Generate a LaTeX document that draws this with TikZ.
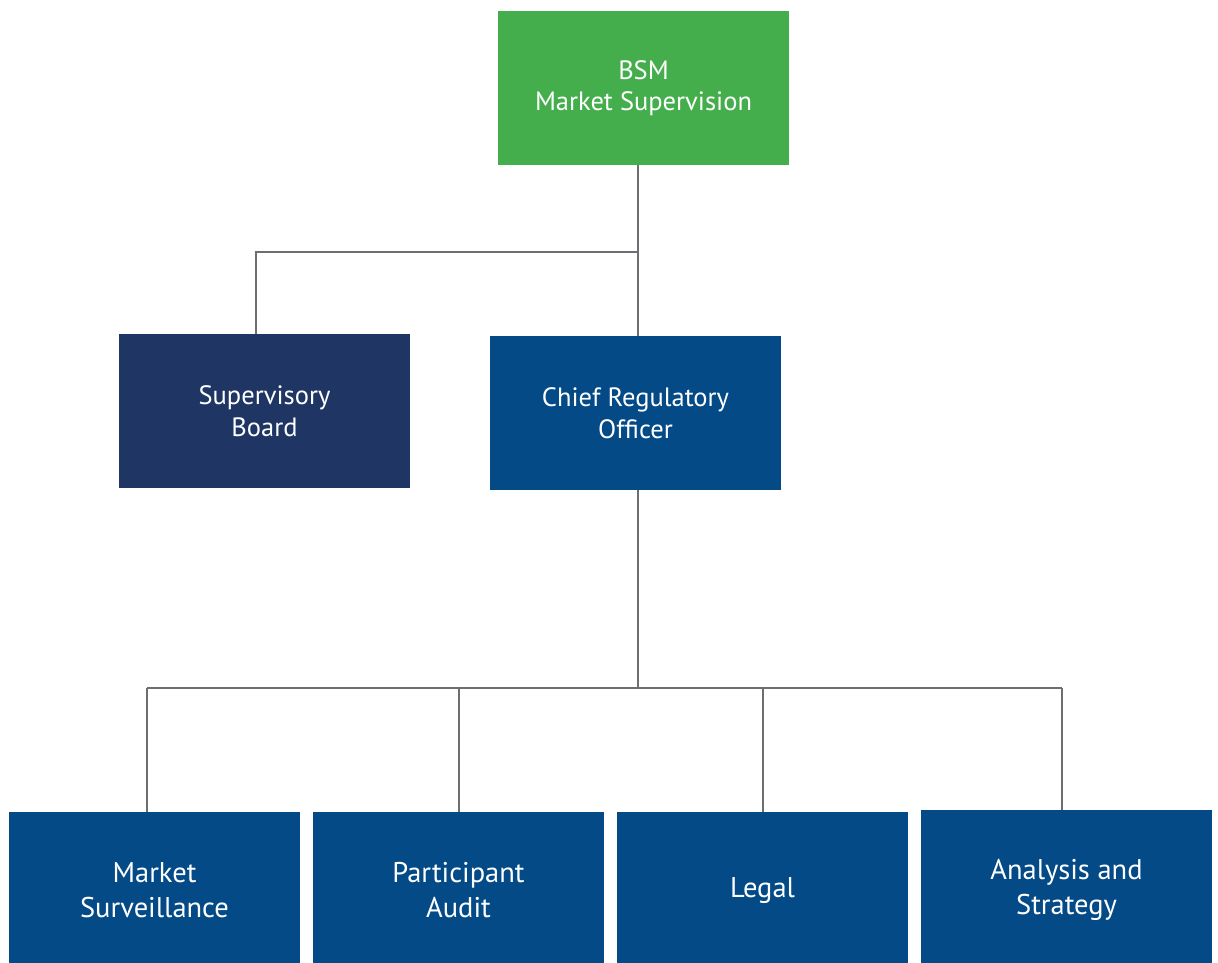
\documentclass[tikz,border=0pt]{standalone}
\usepackage{fontspec}
\setmainfont{PT Sans}
\definecolor{bsmgreen}{HTML}{43AE4B}
\definecolor{navy}{HTML}{1F3664}
\definecolor{deptblue}{HTML}{034A86}
\definecolor{linegray}{HTML}{6D6E71}
\begin{document}
\begin{tikzpicture}[x=1pt,y=-1pt,
  box/.style={draw=none,minimum width=291pt,minimum height=154pt,inner sep=0pt,
    text=white,align=center,font=\fontsize{26.5}{31.5}\selectfont},
  dept/.style={draw=none,fill=deptblue,minimum width=291pt,minimum height=151pt,inner sep=0pt},
  deptlabel/.style={text=white,align=center,inner sep=0pt,font=\fontsize{28.5}{35}\selectfont,yshift=-3pt},
  link/.style={draw=linegray,line width=2.5pt}]
\useasboundingbox (0,0) rectangle (1218,963);
\node[box,fill=bsmgreen] (bsm) at (643.5,88) {BSM\\Market Supervision};
\node[box,fill=navy] (sb) at (264.5,411) {Supervisory\\Board};
\node[box,fill=deptblue] (cro) at (635.5,413) {Chief Regulatory\\Officer};
\node[dept] (ms) at (154.5,887.5) {};
\node[deptlabel] (mst) at (ms.center) {Market\\Surveillance};
\node[dept] (pa) at (458.5,887.5) {};
\node[deptlabel] (pat) at (pa.center) {Participant\\Audit};
\node[dept] (lg) at (762.5,887.5) {};
\node[deptlabel] (lgt) at (lg.center) {Legal};
\node[dept,minimum height=153pt] (as) at (1066.5,886.5) {};
\node[deptlabel] (ast) at (as.center) {Analysis and\\Strategy};
\coordinate (j1) at (638,252);
\coordinate (j2) at (638,688);
\draw[link] (bsm.south -| j1) -- (cro.north -| j1);
\draw[link] (j1) -- (256,252) -- (sb.north -| 256,0);
\draw[link] (cro.south -| j2) -- (j2);
\draw[link] (147,688) -- (1062,688);
\draw[link] (147,688) -- (ms.north -| 147,0);
\draw[link] (459,688) -- (pa.north -| 459,0);
\draw[link] (763,688) -- (lg.north -| 763,0);
\draw[link] (1062,688) -- (as.north -| 1062,0);
\end{tikzpicture}
\end{document}
